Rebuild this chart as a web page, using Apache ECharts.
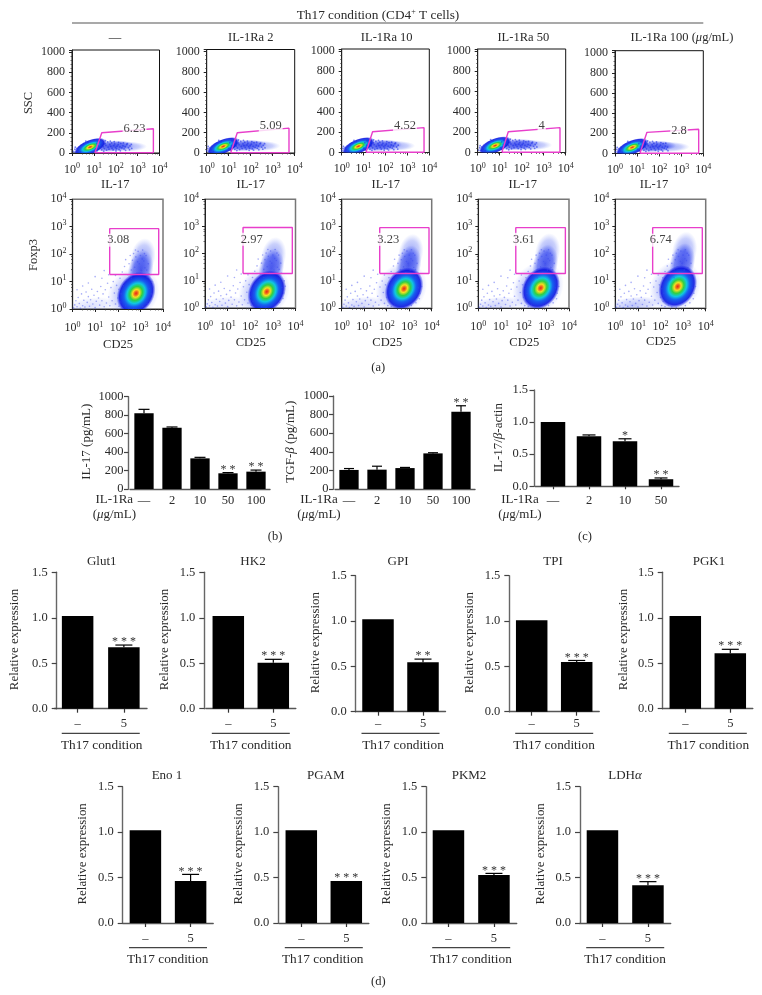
<!DOCTYPE html>
<html><head><meta charset="utf-8">
<style>html,body{margin:0;padding:0;background:#fff}#c{width:762px;height:995px}</style>
<script src="https://cdn.jsdelivr.net/npm/echarts@6/dist/echarts.min.js"></script>
</head><body><div id="c"></div>
<script>
// ---------- values ----------
const doseCats = ['—','2','10','50','100'];
const il17Vals = [820,664,332,170,188];
const il17Errs = [863,672,343,178,205];
const il17Stars = ['','','','* *','* *'];
const tgfVals = [205,208,225,383,831];
const tgfErrs = [220,245,232,390,895];
const tgfStars = ['','','','','* *'];
const actinCats = ['—','2','10','50'];
const actinVals = [1.0,0.78,0.70,0.11];
const actinErrs = [1.0,0.80,0.74,0.13];
const actinStars = ['','','*','* *'];
const geneCats = ['–','5'];
const geneNames = ['Glut1','HK2','GPI','TPI','PGK1','Eno 1','PGAM','PKM2','LDHα'];
const geneCtrl = [1.02,1.02,1.02,1.01,1.02,1.02,1.02,1.02,1.02];
const geneVals = [0.675,0.506,0.545,0.548,0.61,0.462,0.462,0.528,0.415];
const geneErrs = [0.70,0.543,0.58,0.565,0.653,0.535,0.462,0.546,0.455];
const geneStars = ['* * *','* * *','* *','* * *','* * *','* * *','* * *','* * *','* * *'];

const flowTitles = ['—','IL-1Ra 2','IL-1Ra 10','IL-1Ra 50'];
const sscPct = ['6.23','5.09','4.52','4','2.8'];
const foxPct = ['3.08','2.97','3.23','3.61','6.74'];
// gates in real axis units: [left-bottom x, left-top x, right x, left-top y, right-top y]
const sscGates = [[11.2,23,5250,200,240],[12.3,24.5,5500,200,245],[12.9,25.7,5750,205,245],[12.6,24.5,5500,205,245],[13.5,28,6170,210,240]];
// label anchor [x, y]
const sscLabelAt = [[724,240],[813,264],[776,262],[813,262],[794,230]];
// [x left, x right, y bottom, y top]
const foxGates = [[44,6460,18.2,851],[48,7240,18.6,912],[49,7590,19,912],[45,6920,19,912],[45,7080,19,912]];
const foxLabelAt = [[105,324],[117,339],[117,339],[102,339],[102,316]];
// density core centres, log10 decades on x, axis units on y
const sscCores = [[0.83,56],[0.75,62],[0.76,58],[0.79,65],[0.78,58]];
const sscTailMax = [2.75,2.7,2.65,2.75,2.45];
const foxCores = [[2.81,0.57],[2.73,0.60],[2.77,0.72],[2.75,0.745],[2.76,0.80]];
const foxLowAlpha = [0.3,0.3,0.42,0.42,0.62];
// density shapes relative to core: [dx, dy, rx, ry, angle deg, kind]
const sscShapes = [
  [1.0,12,1.0,56,3,'blue'],
  [1.6,8,1.0,52,0,'pale'],
  [0,3,0.78,72,22,'jet']
];
const foxShapes = [
  [0.2,0.85,0.55,0.75,-12,'blue'],
  [0.3,1.3,0.55,0.72,-10,'pale'],
  [-0.12,0,1.25,0.88,50,'pale'],
  [0,0,1.0,0.66,58,'jet']
];
// sparse cell dots, [decades x, y]
const sscDots = [[1.05,40],[1.1,95],[1.12,22],[1.18,70],[1.2,115],[1.25,55],[1.3,85],[1.33,30],[1.38,105],[1.4,62],[1.45,44],[1.48,92],[1.52,76],[1.55,28],[1.6,110],[1.62,58],[1.66,38],[1.7,84],[1.74,66],[1.78,100],[1.8,48],[1.85,30],[1.88,74],[1.92,90],[1.96,56],[2.0,42],[2.03,68],[2.08,82],[2.12,34],[2.16,60],[2.2,96],[2.25,50],[2.3,72],[2.35,40],[2.4,62],[2.47,84],[2.55,52],[2.62,70],[2.7,45],[0.05,15],[0.1,38],[0.15,10],[0.2,45],[0.25,24],[0.3,60],[0.4,78],[0.5,92],[0.6,118],[0.7,106],[0.35,8],[0.12,58],[1.5,122],[1.72,118],[1.9,112],[2.1,106],[2.32,100],[2.5,92],[2.68,86],[2.18,22],[1.42,18],[1.98,20],[2.42,26],[2.6,32]];
const foxDots = [[0.05,0.04],[0.1,0.15],[0.15,0.3],[0.2,0.08],[0.25,0.42],[0.3,0.2],[0.35,0.03],[0.4,0.55],[0.45,0.12],[0.5,0.32],[0.55,0.07],[0.6,0.62],[0.65,0.24],[0.7,0.45],[0.75,0.1],[0.8,0.34],[0.85,0.72],[0.9,0.18],[0.95,0.5],[1.0,0.05],[1.05,0.28],[1.1,0.64],[1.15,0.4],[1.2,0.14],[1.25,0.82],[1.3,0.3],[1.35,0.55],[1.4,0.08],[1.45,0.7],[1.5,0.22],[1.55,0.94],[1.6,0.44],[1.65,0.12],[1.7,0.78],[1.75,0.3],[1.8,1.0],[1.85,0.58],[1.9,0.18],[1.95,0.86],[2.0,0.4],[0.7,0.95],[1.0,1.18],[1.3,1.12],[1.6,1.25],[1.9,1.22],[0.2,0.7],[0.45,0.84],[2.1,1.12],[2.2,1.35],[2.3,1.55],[2.35,1.8],[2.45,1.25],[2.5,1.65],[2.55,1.95],[2.6,1.42],[2.65,1.78],[2.7,2.02],[2.75,1.52],[2.8,1.9],[2.85,1.3],[2.9,2.1],[2.95,1.65],[3.0,1.95],[3.05,1.4],[3.1,2.15],[3.15,1.75],[3.2,1.5],[3.25,1.95],[3.3,1.15],[3.4,0.75],[3.45,0.35],[3.5,1.0],[2.05,0.1],[2.2,0.06],[1.4,1.4],[3.35,1.65],[2.4,1.05],[2.6,1.12],[2.78,2.15],[2.88,1.72],[3.08,1.82],[3.18,2.02],[3.28,1.42],[3.38,1.28],[3.48,0.55],[3.55,0.8],[2.25,0.85],[2.15,0.55],[2.05,0.72],[2.12,0.25],[2.35,0.12],[2.5,0.05],[2.7,0.03],[3.1,0.1],[3.3,0.2]];

// ---------- layout ----------
const serif = '"Liberation Serif","Times New Roman",serif';
const ink = '#2a2a2a';
const sscBoxes = [[72,159.5,50,153],[206.7,294.7,49.5,153],[341.7,429.3,49,152.5],[477.7,565.7,49,152.5],[615,703.3,50.7,153.5]];
const foxBoxes = [[72.5,163,199.3,309],[205,295.5,199.3,308],[341.7,431.7,199.3,308.3],[478.3,569,199.3,308.3],[615.3,705.7,199.3,308.3]];
const doseBoxes = [
  {box:[130,270,396.7,489],max:1000,interval:200,w:19.3,cap:11,ticks:0,yOff:1.5,margin:5,yMargin:5},
  {box:[335,475,396,489],max:1000,interval:200,w:19.3,cap:10,ticks:0,yOff:1.5,margin:5,yMargin:5},
  {box:[535,679,390,486.3],max:1.5,interval:0.5,w:24.5,cap:13,ticks:3,yOff:1,fixed:1,margin:8,yMargin:6}
];
const geneBoxes = [[54.5,147,572.3,708.7],[205.8,295.8,572.3,708.7],[355.5,445.5,575.7,711.7],[509.2,599.2,575.7,711.7],[662.8,752.8,572.3,708.7],[122.8,213.2,786.7,923],[278.8,368.8,786.7,923],[425.7,516.7,786.7,923],[579.7,670.7,786.7,923]];
const geneYAxisX = [56.7,204.3,355.7,509.3,662.7,122.7,278.3,426.3,580];
const geneTitleX = [101.7,253,398,553,709,167,325.7,469,625];
const geneYLabelX = [14.3,165,316,469.3,623.3,83,239,386.7,540.7];
const geneCondX = [101.7,250.7,403,554,708.3,167.7,322.7,471,625];

const G = echarts.graphic;
const jet = new G.RadialGradient(0.5,0.5,0.5,[
  {offset:0,color:'#e8261a'},{offset:0.09,color:'#f0701a'},{offset:0.18,color:'#f4e020'},
  {offset:0.32,color:'#30d040'},{offset:0.47,color:'#10c8e0'},{offset:0.62,color:'#1860f0'},
  {offset:0.85,color:'rgba(10,20,225,0.88)'},{offset:1,color:'rgba(20,30,235,0)'}]);
const blue = new G.RadialGradient(0.5,0.5,0.5,[
  {offset:0,color:'rgba(15,30,225,0.82)'},{offset:0.6,color:'rgba(30,50,235,0.6)'},{offset:1,color:'rgba(60,80,245,0)'}]);
const pale = new G.RadialGradient(0.5,0.5,0.5,[
  {offset:0,color:'rgba(60,80,240,0.55)'},{offset:0.65,color:'rgba(90,110,245,0.32)'},{offset:1,color:'rgba(120,140,250,0)'}]);
const fills = {jet,blue,pale};

const grids=[],xAxes=[],yAxes=[],series=[],gfx=[];
const fmtPow = v => `{n|10}{p|${Math.round(Math.log10(v))}}`;
const powRich = {n:{fontFamily:serif,fontSize:12,color:ink},p:{fontFamily:serif,fontSize:8,color:ink,padding:[0,0,7,0]}};

function addGrid(box,extra){
  grids.push(Object.assign({left:box[0],width:box[1]-box[0],top:box[2],height:box[3]-box[2]},extra||{}));
  return grids.length-1;
}
function logAxis(i,margin){
  return {type:'log',logBase:10,min:1,max:10000,gridIndex:i,
    axisLine:{show:true,onZero:false,lineStyle:{color:'#222',width:1}},
    axisTick:{show:true,length:3,lineStyle:{color:'#222',width:1}},
    minorTick:{show:true,length:1.5,splitNumber:5,lineStyle:{color:'#333',width:0.7}},
    splitLine:{show:false},minorSplitLine:{show:false},
    axisLabel:{show:true,margin,formatter:fmtPow,rich:powRich,showMinLabel:true,showMaxLabel:true}};
}
function blobs(i,core,shapes,alphaFor,scaleX){
  const rows=shapes.map(s=>[core[0]+s[0],core[1]+s[1],s[2],s[3],s[4]]);
  return {type:'custom',xAxisIndex:i,yAxisIndex:i,clip:true,silent:true,z:2,
    encode:{x:0,y:1},data:rows,
    renderItem:(p,api)=>{
      const s=shapes[p.dataIndex];
      const cx=api.value(0),cy=api.value(1),rx=api.value(2),ry=api.value(3);
      const c=api.coord([Math.pow(10,cx),scaleX(cy)]);
      const ex=api.coord([Math.pow(10,cx+rx),scaleX(cy)]);
      const ey=api.coord([Math.pow(10,cx),scaleX(cy+ry)]);
      return {type:'circle',x:c[0],y:c[1],scaleX:Math.abs(ex[0]-c[0]),scaleY:Math.abs(ey[1]-c[1]),
        rotation:api.value(4)*Math.PI/180,shape:{cx:0,cy:0,r:1},style:{fill:fills[s[5]],opacity:alphaFor?alphaFor(s[5]):1}};
    }};
}

// row 1 SSC / IL-17
sscBoxes.forEach((b,k)=>{
  const i=addGrid(b,{show:true,borderColor:'#111',borderWidth:1,backgroundColor:'transparent'});
  xAxes.push(logAxis(i,9));
  yAxes.push({type:'value',gridIndex:i,min:0,max:1020,interval:200,splitLine:{show:false},
    axisLine:{show:true,onZero:false,lineStyle:{color:'#222'}},axisTick:{show:true,length:3,lineStyle:{color:'#222'}},
    minorTick:{show:true,length:1.5,splitNumber:5,lineStyle:{color:'#333',width:0.7}},
    axisLabel:{margin:7,showMaxLabel:false,fontFamily:serif,fontSize:12,color:ink,formatter:v=>String(v)}});
  const core=sscCores[k];
  series.push(blobs(i,core,sscShapes,null,y=>y));
  series.push({type:'scatter',xAxisIndex:i,yAxisIndex:i,symbol:'circle',symbolSize:1.8,z:3,silent:true,
    itemStyle:{color:'#2030e8',opacity:0.6},
    data:sscDots.filter(d=>d[0]<=sscTailMax[k]).map(d=>[Math.pow(10,d[0]+core[0]-0.8),d[1]+core[1]-56])});
  const g=sscGates[k];
  series.push({type:'line',xAxisIndex:i,yAxisIndex:i,symbol:'none',silent:true,z:4,
    lineStyle:{color:'#e83ecb',width:1.4},
    data:[[g[0],3],[g[1],g[3]],[g[2],g[4]],[g[2],3],[g[0],3]]});
  series.push({type:'scatter',xAxisIndex:i,yAxisIndex:i,symbolSize:0,z:5,silent:true,
    label:{show:true,position:'inside',formatter:sscPct[k],fontFamily:serif,fontSize:12.5,color:'#111',backgroundColor:'#fff',padding:[0,1]},
    data:[sscLabelAt[k]]});
});
// row 2 Foxp3 / CD25
foxBoxes.forEach((b,k)=>{
  const i=addGrid(b,{show:true,borderColor:'#777',borderWidth:1.5,backgroundColor:'transparent'});
  xAxes.push(logAxis(i,11.5));
  yAxes.push(logAxis(i,6));
  const core=foxCores[k];
  const low=blobs(i,[0.8,0.2],[[0,-0.08,1.25,0.3,6,'pale']],()=>foxLowAlpha[k],y=>Math.pow(10,y));
  series.push(low);
  series.push(blobs(i,core,foxShapes,null,y=>Math.pow(10,y)));
  series.push({type:'scatter',xAxisIndex:i,yAxisIndex:i,symbol:'circle',symbolSize:1.6,z:3,silent:true,
    itemStyle:{color:'#3a48f0',opacity:0.45},
    data:foxDots.map(d=>[Math.pow(10,d[0]),Math.pow(10,d[1])])});
  const g=foxGates[k];
  series.push({type:'line',xAxisIndex:i,yAxisIndex:i,symbol:'none',silent:true,z:4,
    lineStyle:{color:'#e83ecb',width:1.4},
    data:[[g[0],g[2]],[g[0],g[3]],[g[1],g[3]],[g[1],g[2]],[g[0],g[2]]]});
  series.push({type:'scatter',xAxisIndex:i,yAxisIndex:i,symbolSize:0,z:5,silent:true,
    label:{show:true,position:'inside',formatter:foxPct[k],fontFamily:serif,fontSize:12.5,color:'#111',backgroundColor:'#fff',padding:[0,1]},
    data:[foxLabelAt[k]]});
});

function errSeries(i,tops,vals,stars,capW){
  return {type:'custom',xAxisIndex:i,yAxisIndex:i,z:4,silent:true,clip:false,encode:{x:0,y:1},
    data:tops.map((t,j)=>[j,t]),
    renderItem:(p,api)=>{
      const j=p.dataIndex,idx=api.value(0),hi=api.value(1);
      const a=api.coord([idx,vals[j]]),b=api.coord([idx,hi]);
      const kids=[];
      if(hi>vals[j]){
        const st={stroke:'#000',lineWidth:1.2,fill:null};
        kids.push({type:'line',shape:{x1:a[0],y1:a[1],x2:b[0],y2:b[1]},style:st});
        kids.push({type:'line',shape:{x1:b[0]-capW/2,y1:b[1],x2:b[0]+capW/2,y2:b[1]},style:st});
      }
      if(stars[j]) kids.push({type:'text',style:{text:stars[j],x:b[0],y:b[1]-9,align:'center',verticalAlign:'top',
        textAlign:'center',textVerticalAlign:'top',font:'12px '+serif,fill:'#333'}});
      return {type:'group',children:kids};
    }};
}
function barPanel(box,cats,vals,tops,stars,o){
  const i=addGrid(box);
  xAxes.push({type:'category',gridIndex:i,data:cats,
    axisLine:{show:true,onZero:false,lineStyle:{color:'#555',width:1.4}},
    axisTick:{show:o.ticks>0,alignWithLabel:true,length:o.ticks,lineStyle:{color:'#333',width:1.2}},
    axisLabel:{margin:o.margin,interval:0,fontFamily:serif,fontSize:12.5,color:ink}});
  yAxes.push({type:'value',gridIndex:i,min:0,max:o.max,interval:o.interval,offset:o.yOff,splitLine:{show:false},
    axisLine:{show:true,onZero:false,lineStyle:{color:'#666',width:1.4}},
    axisTick:{show:true,length:o.yTick||4.5,lineStyle:{color:'#444',width:1.2}},
    axisLabel:{margin:o.yMargin,fontFamily:serif,fontSize:12.5,color:ink,formatter:o.fixed?(v=>v.toFixed(1)):(v=>String(v))}});
  series.push({type:'bar',xAxisIndex:i,yAxisIndex:i,data:vals,barWidth:o.w,itemStyle:{color:'#000'},silent:true,z:3});
  series.push(errSeries(i,tops,vals,stars,o.cap));
}
barPanel(doseBoxes[0].box,doseCats,il17Vals,il17Errs,il17Stars,doseBoxes[0]);
barPanel(doseBoxes[1].box,doseCats,tgfVals,tgfErrs,tgfStars,doseBoxes[1]);
barPanel(doseBoxes[2].box,actinCats,actinVals,actinErrs,actinStars,doseBoxes[2]);
geneBoxes.forEach((b,k)=>{
  barPanel(b,geneCats,[geneCtrl[k],geneVals[k]],[geneCtrl[k],geneErrs[k]],['',geneStars[k]],
    {max:1.5,interval:0.5,w:31.5,cap:17,ticks:4,yOff:b[0]-geneYAxisX[k],fixed:1,margin:(k===2||k===3)?6:9,yMargin:9,yTick:5});
});

// ---------- free text ----------
function txt(t,x,y,o){
  o=o||{};
  gfx.push({type:'text',x,y,rotation:o.rot?Math.PI/2:0,silent:true,z:20,style:{text:t,textAlign:'center',textVerticalAlign:'middle',align:'center',verticalAlign:'middle',
    fontFamily:serif,fontSize:o.size||12.5,fill:o.color||ink,rich:o.rich}});
}
function hline(x1,x2,y,c){ gfx.push({type:'line',silent:true,z:20,shape:{x1,y1:y,x2,y2:y},style:{stroke:c||'#555',lineWidth:1.2}}); }
const mkRich=s=>({i:{fontFamily:serif,fontStyle:'italic',fontSize:s,fill:ink},s:{fontFamily:serif,fontSize:8,fill:ink,padding:[0,0,7,0]},t:{fontFamily:serif,fontSize:s,fill:ink}});
const ital=mkRich(12.5);
hline(72,703.3,23,'#555');
txt('{t|Th17 condition (CD4}{s|+}{t| T cells)}',378,15.5,{rich:mkRich(13.3)});
[115,250.7,386.7,523.3].forEach((x,k)=>txt(flowTitles[k],x,38));
txt('{t|IL-1Ra 100 (}{i|μ}{t|g/mL)}',682,38,{rich:ital});
txt('SSC',29,103,{rot:1});
txt('Foxp3',33.7,255,{rot:1});
[115.3,250.7,385.7,522.7,654].forEach(x=>txt('IL-17',x,185));
[[118,345],[250.7,342.7],[387.3,342.7],[524.3,342.7],[661,342]].forEach(p=>txt('CD25',p[0],p[1]));
txt('(a)',378.3,367.7);
txt('IL-17 (pg/mL)',86.7,441.7,{rot:1,size:13});
txt('{t|TGF-}{i|β}{t| (pg/mL)}',291,441.7,{rot:1,rich:mkRich(13)});
txt('{t|IL-17/}{i|β}{t|-actin}',498.3,437.7,{rot:1,rich:mkRich(13)});
[114.3,319,520].forEach(x=>{
  txt('IL-1Ra',x,499.3,{size:13});
  txt('{t|(}{i|μ}{t|g/mL)}',x,514.3,{rich:mkRich(13)});
});
txt('(b)',275,537);txt('(c)',585,537);txt('(d)',378.3,981.7);
geneBoxes.forEach((b,k)=>{
  const cy=(b[2]+b[3])/2;
  const rowTop=k<5;
  txt(k===8?'{t|LDH}{i|α}':geneNames[k],geneTitleX[k],rowTop?562:776,k===8?{rich:mkRich(13)}:{size:13});
  txt('Relative expression',geneYLabelX[k],cy-1,{rot:1,size:12.9});
  const mid=(b[0]+b[1])/2;
  hline(mid-39,mid+39,rowTop?733.3:947.7,'#444');
  txt('Th17 condition',geneCondX[k],rowTop?745.7:959.5,{size:13.3});
});

const chart=echarts.init(document.getElementById('c'),null,{renderer:'canvas'});
chart.setOption({animation:false,backgroundColor:'#fff',tooltip:{show:false},grid:grids,xAxis:xAxes,yAxis:yAxes,series,graphic:{elements:gfx}});
</script></body></html>
